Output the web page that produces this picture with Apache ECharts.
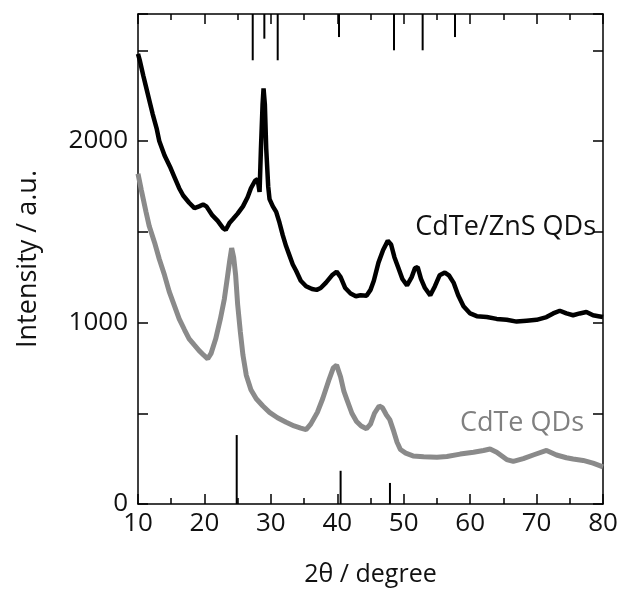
<!DOCTYPE html>
<html>
<head>
<meta charset="utf-8">
<script src="https://cdn.jsdelivr.net/npm/echarts@6/dist/echarts.min.js"></script>
<style>html,body{margin:0;padding:0;background:#fff}#c{width:624px;height:597px}</style>
</head>
<body>
<div id="c"></div>
<script>
// CdTe/ZnS QDs pattern [2θ, intensity]
const znsCurve = [[10.0,2480],[10.3,2440],[10.8,2360],[11.2,2300],[11.8,2210],[12.2,2150],[12.8,2070],[13.2,2000],[14.0,1920],[14.8,1860],[15.5,1800],[16.2,1740],[16.8,1700],[17.7,1660],[18.5,1630],[19.2,1640],[19.8,1650],[20.3,1640],[21.2,1590],[22.0,1560],[22.8,1520],[23.2,1510],[23.8,1550],[24.3,1570],[25.0,1600],[25.8,1640],[26.5,1690],[27.0,1740],[27.6,1780],[28.0,1790],[28.3,1720],[28.5,1950],[28.75,2200],[28.9,2290],[29.1,2200],[29.3,1960],[29.6,1750],[29.8,1680],[30.3,1640],[30.8,1610],[31.3,1550],[31.8,1480],[32.3,1420],[32.8,1370],[33.3,1320],[33.8,1285],[34.5,1230],[35.3,1200],[36.2,1185],[36.9,1180],[37.5,1190],[38.3,1220],[39.2,1260],[39.9,1280],[40.5,1250],[41.2,1190],[42.0,1160],[42.8,1145],[43.5,1150],[44.4,1148],[45.0,1180],[45.5,1230],[46.2,1330],[46.9,1400],[47.6,1450],[48.1,1430],[48.6,1360],[49.2,1300],[49.8,1240],[50.5,1205],[51.2,1250],[51.7,1300],[52.1,1305],[52.6,1240],[53.2,1190],[54.0,1150],[54.7,1200],[55.4,1260],[56.2,1275],[56.8,1260],[57.5,1220],[58.2,1150],[59.0,1090],[60.0,1050],[61.0,1035],[62.5,1030],[64.0,1020],[65.5,1015],[67.0,1005],[68.5,1010],[70.0,1015],[71.5,1030],[72.5,1050],[73.5,1065],[74.5,1050],[75.5,1040],[76.5,1050],[77.5,1058],[78.5,1040],[79.3,1035],[80.0,1030]];
// CdTe QDs pattern [2θ, intensity]
const cdteCurve = [[10.0,1820],[10.5,1730],[11.2,1610],[11.7,1530],[12.5,1440],[13.2,1350],[14.0,1260],[14.7,1170],[15.5,1090],[16.2,1020],[17.0,960],[17.7,910],[18.5,875],[19.2,845],[19.9,820],[20.5,800],[21.0,830],[21.7,910],[22.4,1020],[23.0,1130],[23.5,1260],[23.8,1340],[24.1,1410],[24.4,1360],[24.7,1260],[25.0,1100],[25.4,950],[25.8,820],[26.3,710],[27.0,630],[27.8,580],[28.8,540],[29.8,505],[31.0,475],[32.3,450],[33.5,430],[34.5,418],[35.3,410],[36.0,440],[37.0,505],[37.8,580],[38.8,690],[39.4,750],[39.9,765],[40.5,700],[41.0,620],[41.5,570],[42.2,500],[42.9,455],[43.6,430],[44.4,415],[45.0,440],[45.6,500],[46.3,540],[46.8,530],[47.4,490],[47.9,465],[48.5,400],[49.0,340],[49.5,300],[50.3,280],[51.4,265],[53.0,260],[55.0,258],[56.5,262],[58.5,275],[60.5,285],[62.0,295],[63.0,303],[64.0,285],[65.5,245],[66.5,235],[68.0,250],[69.5,270],[71.5,295],[73.0,270],[74.5,255],[75.5,248],[77.0,240],[78.5,225],[80.0,205]];
// reference sticks hanging from the top (ZnS-related)
const topStickPos = [27.27, 29.02, 31.03, 40.26, 48.54, 52.85, 57.72];
const topStickEnd = [2445, 2564, 2445, 2573, 2500, 2500, 2573];
// reference sticks rising from the bottom (CdTe)
const botStickPos = [24.86, 40.5, 47.93];
const botStickHeight = [380, 183, 116];
// axes
const xMin = 10, xMax = 80, xStep = 10;
const yMin = 0, yMax = 2700, yStep = 500;
const yLabelEvery = 1000;
const xName = '2θ / degree';
const yName = 'Intensity / a.u.';
const label1 = 'CdTe/ZnS QDs';
const label2 = 'CdTe QDs';

const FONT = '"Open Sans", "Noto Sans", sans-serif';
const chart = echarts.init(document.getElementById('c'), null, {renderer: 'canvas'});

const axisLine = {show: true, onZero: false, lineStyle: {color: '#000', width: 1.5}};
const tick = {show: true, inside: true, length: 10, lineStyle: {color: '#000', width: 1.5}};
const minor = {show: true, splitNumber: 2, length: 6, lineStyle: {color: '#000', width: 1.5}};

const stickSeries = [];
topStickPos.forEach((p, i) => {
  stickSeries.push({type: 'line', data: [[p, yMax], [p, topStickEnd[i]]], showSymbol: false, silent: true,
    lineStyle: {color: '#000', width: 2}, z: 5});
});
botStickPos.forEach((p, i) => {
  stickSeries.push({type: 'line', data: [[p, yMin], [p, botStickHeight[i]]], showSymbol: false, silent: true,
    lineStyle: {color: '#000', width: 2}, z: 5});
});

chart.setOption({
  animation: false,
  backgroundColor: '#fff',
  grid: {left: 138, right: 21, top: 14, bottom: 93, containLabel: false},
  xAxis: [
    {type: 'value', min: xMin, max: xMax, interval: xStep, position: 'bottom',
     axisLine, axisTick: tick, minorTick: minor, splitLine: {show: false},
     axisLabel: {color: '#111', fontSize: 26, fontFamily: FONT, margin: 7},
     name: xName, nameLocation: 'middle', nameGap: 58,
     nameTextStyle: {color: '#111', fontSize: 25, fontFamily: FONT}},
    {type: 'value', min: xMin, max: xMax, interval: xStep, position: 'top',
     axisLine, axisTick: tick, minorTick: minor, splitLine: {show: false},
     axisLabel: {show: false}}
  ],
  yAxis: [
    {type: 'value', min: yMin, max: yMax, interval: yStep, position: 'left',
     axisLine, axisTick: tick, splitLine: {show: false},
     axisLabel: {color: '#111', fontSize: 26, fontFamily: FONT, margin: 10,
       formatter: v => (v % yLabelEvery === 0 ? String(v) : '')},
     name: yName, nameLocation: 'middle', nameGap: 96,
     nameTextStyle: {color: '#111', fontSize: 27, fontFamily: FONT}},
    {type: 'value', min: yMin, max: yMax, interval: yStep, position: 'right',
     axisLine, axisTick: tick, splitLine: {show: false}, axisLabel: {show: false}}
  ],
  series: [
    {type: 'line', name: label2, data: cdteCurve, showSymbol: false,
     lineStyle: {color: '#8a8a8a', width: 5}, z: 3},
    {type: 'line', name: label1, data: znsCurve, showSymbol: false,
     lineStyle: {color: '#000', width: 4.5}, z: 4},
    ...stickSeries
  ],
  graphic: [
    {type: 'text', right: 28, top: 214, style: {text: label1, fill: '#111', font: '27px ' + FONT}},
    {type: 'text', right: 40, top: 410, style: {text: label2, fill: '#808080', font: '27px ' + FONT}}
  ]
});
</script>
</body>
</html>
